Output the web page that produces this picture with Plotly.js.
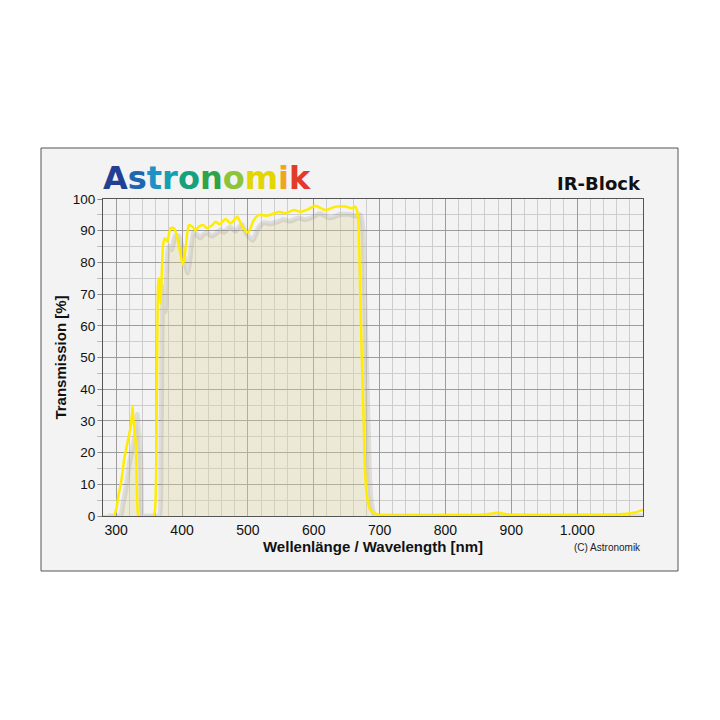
<!DOCTYPE html>
<html>
<head>
<meta charset="utf-8">
<script src="https://cdn.plot.ly/plotly-3.0.1.min.js"></script>
<style>html,body{margin:0;padding:0;background:#fff;}#chart{width:720px;height:720px;}</style>
</head>
<body>
<div id="chart"></div>
<script>
// Wavelength (nm) and transmission (%)
var wavelength = [280,296,300,303,306,309.5,312,315,317,320,322,324,325,326,328,330,331,332.5,334,356,359,361,362.5,364,365.5,367.5,369.5,371.5,374,377.5,382.5,388,393,398,401.5,405.5,410.5,415.5,420.5,425.5,432,438,446,451,457,466,474,484,491,500.5,509,517,527,537,547,557,570,580,592,602,618,633,648,658,663,665.5,668,670.5,673,676,678,681,686,693,700,750,800,850,870,880,890,920,1000,1050,1075,1090,1100];
var transmission = [0,0,2,6,9,13.5,17.7,21,23,26,28,32,34.5,31,27,22,12,2,0,0,2,20,55,74,75,67,78,86,87.6,86.5,90.8,90.8,87.6,82.3,79.2,84.4,91.8,91.3,90.2,91.3,91.8,90.8,91.8,92.8,92,93.7,92.3,94.4,91.5,89.5,93.4,95,94.7,95.2,96,95.5,96.5,96,96.8,97.9,96.5,97.6,97.6,97.1,97.6,96.5,92,71,50,29,13.5,6,1.9,0.8,0.3,0.2,0.2,0.3,0.8,1.1,0.6,0.3,0.3,0.4,0.7,1.2,2];

var xTickVals = [300,400,500,600,700,800,900,1000];
var xTickText = ['300','400','500','600','700','800','900','1.000'];
var yTickVals = [0,10,20,30,40,50,60,70,80,90,100];

var logoLetters = ['A','s','t','r','o','n','o','m','i','k'];
var logoColors = ['#233f94','#1d66b0','#1d92c7','#149fb2','#15a07e','#2ea34a','#8dc43a','#e3d600','#f1a61a','#e43a2a'];

var shadowX = wavelength.map(function(v){return v + 7;});
var shadowY = transmission.map(function(v){return Math.max(v - 2.5, 0);});

var traces = [
  {x: shadowX, y: shadowY, type: 'scatter', mode: 'lines',
   line: {color: 'rgba(110,110,110,0.17)', width: 5, shape: 'spline', smoothing: 0.6},
   fill: 'tozeroy', fillcolor: 'rgba(225,215,160,0.34)', hoverinfo: 'skip'},
  {x: wavelength, y: transmission, type: 'scatter', mode: 'lines',
   line: {color: '#ffec00', width: 2.5, shape: 'spline', smoothing: 0.6}}
];

var logoText = logoLetters.map(function(c, i){
  return '<span style="color:' + logoColors[i] + '">' + c + '</span>';
}).join('');

var L = 103, R = 643, T = 199, B = 516;
function px(x){ return (x - L) / (R - L); }
function py(y){ return (B - y) / (B - T); }

var layout = {
  width: 720, height: 720,
  margin: {l: L, r: 720 - R, t: T, b: 720 - B, pad: 0},
  paper_bgcolor: '#ffffff',
  plot_bgcolor: '#f3f3f3',
  showlegend: false,
  font: {family: 'Liberation Sans, Arial, sans-serif', color: '#111'},
  xaxis: {
    range: [280, 1100], tickmode: 'array', tickvals: xTickVals, ticktext: xTickText,
    showgrid: true, gridcolor: '#9c9c9c', gridwidth: 1,
    minor: {tick0: 280, dtick: 20, showgrid: true, gridcolor: '#cdcdcd', gridwidth: 1},
    showline: true, mirror: true, linecolor: '#555', linewidth: 1,
    ticks: 'outside', ticklen: 1, tickcolor: 'rgba(0,0,0,0)',
    tickfont: {size: 14, color: '#111'}, zeroline: false,
    title: {text: 'Wellenlänge / Wavelength [nm]', font: {size: 15, color: '#111', family: 'Liberation Sans, Arial, sans-serif', weight: 'bold'}, standoff: 2}
  },
  yaxis: {
    range: [0, 100], tickmode: 'array', tickvals: yTickVals,
    showgrid: true, gridcolor: '#9c9c9c', gridwidth: 1,
    minor: {tick0: 0, dtick: 5, showgrid: true, gridcolor: '#cdcdcd', gridwidth: 1, ticks: 'outside', ticklen: 5, tickcolor: '#bbb'},
    showline: true, mirror: true, linecolor: '#555', linewidth: 1,
    ticks: 'outside', ticklen: 4, tickcolor: '#888',
    tickfont: {size: 13.5, color: '#111'}, zeroline: false,
    title: {text: 'Transmission [%]', font: {size: 15, color: '#111', family: 'Liberation Sans, Arial, sans-serif', weight: 'bold'}, standoff: 2}
  },
  shapes: [
    {type: 'rect', xref: 'paper', yref: 'paper', layer: 'below',
     x0: px(41), x1: px(678), y0: py(571), y1: py(148),
     line: {color: '#555', width: 1}, fillcolor: '#f3f3f3'}
  ],
  annotations: [
    {xref: 'paper', yref: 'paper', x: px(101), y: py(178), xanchor: 'left', yanchor: 'middle',
     text: logoText, showarrow: false,
     font: {family: 'DejaVu Sans, sans-serif', size: 32, weight: 'bold'}},
    {xref: 'paper', yref: 'paper', x: 1, y: py(183), xanchor: 'right', yanchor: 'middle',
     text: 'IR-Block', showarrow: false,
     font: {family: 'DejaVu Sans, sans-serif', size: 18, color: '#111', weight: 'bold'}},
    {xref: 'paper', yref: 'paper', x: 1, y: py(547), xanchor: 'right', yanchor: 'middle',
     text: '(C) Astronomik', showarrow: false,
     font: {family: 'Liberation Sans, Arial, sans-serif', size: 10, color: '#222'}}
  ]
};

Plotly.newPlot('chart', traces, layout, {displayModeBar: false, staticPlot: true});
</script>
</body>
</html>
